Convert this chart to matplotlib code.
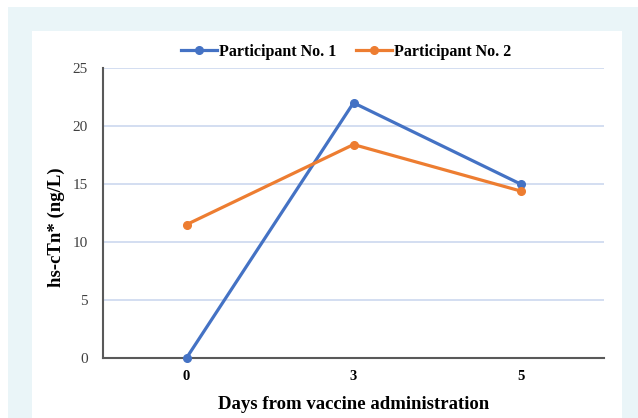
import matplotlib
matplotlib.use('Agg')
from matplotlib import pyplot as plt
from matplotlib.patches import Rectangle

days = ['0', '3', '5']
participant_1 = [0, 22, 15]
participant_2 = [11.5, 18.4, 14.4]
yticks = [0, 5, 10, 15, 20, 25]

W, H = 638, 418

def main():
    plt.rcParams['font.family'] = ['Liberation Serif', 'DejaVu Serif']
    fig = plt.figure(figsize=(W / 100, H / 100), dpi=100)
    fig.patch.set_facecolor('white')
    # light blue frame and inner white panel
    fig.patches.append(Rectangle((8 / W, 0), 1 - 8 / W, 1 - 7 / H, transform=fig.transFigure,
                                 facecolor='#EAF5F8', edgecolor='none', zorder=-2))
    fig.patches.append(Rectangle((32 / W, 0), (622 - 32) / W, 1 - 31 / H, transform=fig.transFigure,
                                 facecolor='white', edgecolor='none', zorder=-1))

    ax = fig.add_axes([103 / W, 1 - 358 / H, (604 - 103) / W, (358 - 68) / H])
    ax.set_facecolor('none')
    x = range(len(days))
    ax.plot(x, participant_1, color='#4472C4', lw=2.3, marker='o', ms=5.5, label='Participant No. 1', zorder=3, clip_on=False)
    ax.plot(x, participant_2, color='#ED7D31', lw=2.3, marker='o', ms=5.5, label='Participant No. 2', zorder=3, clip_on=False)

    ax.set_xlim(-0.5, 2.5)
    ax.set_ylim(0, 25)
    ax.set_xticks(list(x))
    ax.set_xticklabels(days, fontweight='bold', fontsize=10.5)
    ax.set_yticks(yticks)
    ax.set_yticklabels([str(t) for t in yticks], fontsize=11, color='#404040')
    ax.tick_params(length=0, pad=9)
    ax.tick_params(axis='y', pad=11)
    for t in yticks[1:]:
        ax.axhline(t, color='#C7D5EE', lw=1.1, zorder=1)
    for s in ['top', 'right']:
        ax.spines[s].set_visible(False)
    for s in ['left', 'bottom']:
        ax.spines[s].set_color('#595959')
        ax.spines[s].set_linewidth(1.5)
        ax.spines[s].set_zorder(2)

    ax.set_xlabel('Days from vaccine administration', fontweight='bold', fontsize=13.5, labelpad=9)
    ax.set_ylabel('hs-cTn* (ng/L)', fontweight='bold', fontsize=13.5)
    ax.yaxis.set_label_coords(-0.075, 0.45)

    ax.legend(loc='lower center', bbox_to_anchor=(0.485, 1.0), ncol=2, frameon=False,
              prop={'weight': 'bold', 'size': 11.5}, handlelength=2.3, handletextpad=0.1,
              columnspacing=1.2, borderaxespad=0.1)

    fig.savefig('out.png', dpi=100)

if __name__ == '__main__':
    main()
